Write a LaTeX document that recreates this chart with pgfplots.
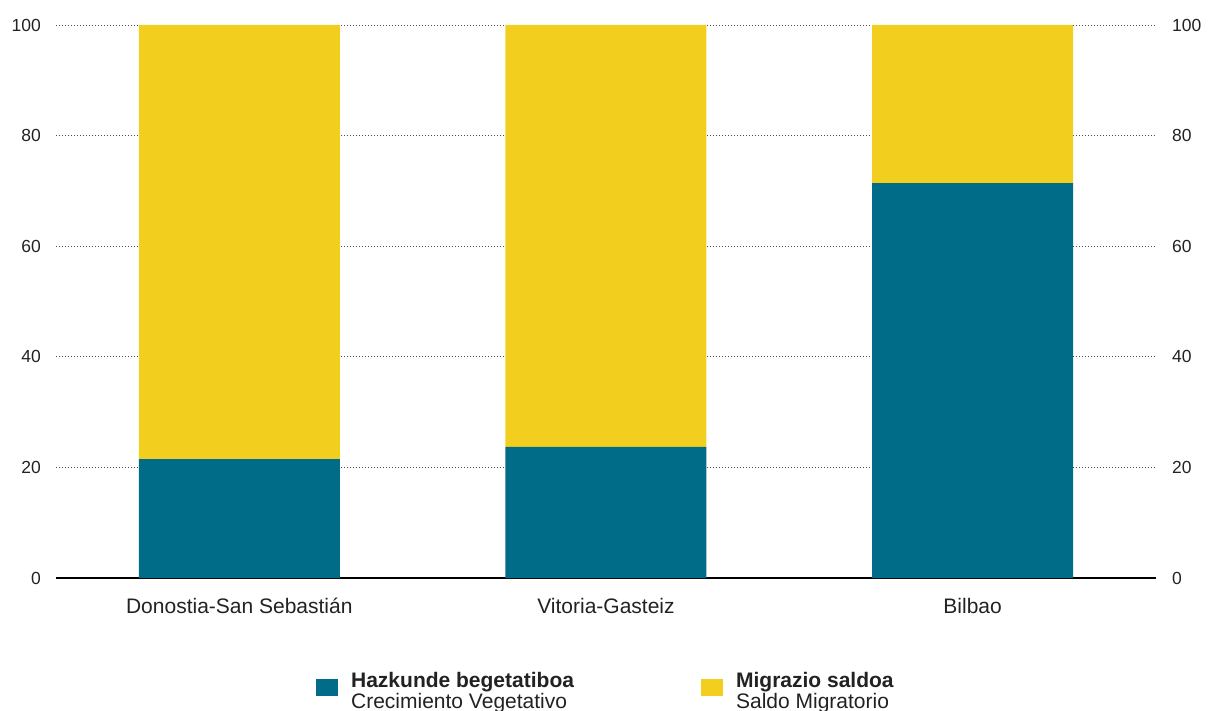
\documentclass[border=0pt]{standalone}
\usepackage{pgfplots}
\pgfplotsset{compat=1.18}
\usepackage{fontspec}
\setmainfont{Liberation Sans}
\definecolor{teal1}{RGB}{0,108,135}
\definecolor{yel1}{RGB}{242,207,30}
\definecolor{txt}{RGB}{34,34,34}
\begin{document}
\begin{tikzpicture}
\path[use as bounding box] (0,0) rectangle (1208bp,711bp);
\begin{axis}[
  at={(56bp,133bp)}, anchor=south west,
  scale only axis, width=1100bp, height=553bp,
  clip=false,
  ybar stacked, bar width=201bp,
  xmin=-0.5, xmax=2.5, ymin=0, ymax=100,
  enlargelimits=false,
  xtick={0,1,2},
  xticklabels={Donostia-San Sebastián, Vitoria-Gasteiz, Bilbao},
  ytick={0,20,40,60,80,100},
  major tick length=0pt,
  axis line style={draw=none},
  ymajorgrids,
  major grid style={draw=black!70, line width=0.9bp, dash pattern=on 0.9bp off 2.1bp},
  /pgf/number format/assume math mode=true,
  tick label style={font=\fontsize{17.5bp}{20bp}\selectfont, text=txt, inner sep=0pt},
  yticklabel style={anchor=east, xshift=-15bp},
  xticklabel style={anchor=base, yshift=-35bp, font=\fontsize{21bp}{24bp}\selectfont},
  legend columns=2,
  legend style={draw=none, fill=none, at={(axis description cs:0.5,-0.167)}, anchor=north,
    inner sep=0pt, font=\fontsize{21bp}{21bp}\selectfont, text=txt,
    cells={anchor=west, align=left},
    /tikz/every odd column/.append style={column sep=11bp},
    /tikz/every even column/.append style={column sep=125bp}},
  legend image code/.code={\fill[#1, draw=none] (0bp,-5bp) rectangle (22bp,12bp);},
]
\addplot[fill=teal1, draw=none] coordinates {(0,21.5) (1,23.7) (2,71.4)};
\addplot[fill=yel1, draw=none] coordinates {(0,78.5) (1,76.3) (2,28.6)};
\legend{{\textbf{Hazkunde begetatiboa}\\Crecimiento Vegetativo}, {\textbf{Migrazio saldoa}\\Saldo Migratorio}}
\draw[black, line width=2.6bp] (axis cs:-0.5,0) -- (axis cs:2.5,0);
\end{axis}
\begin{axis}[
  at={(56bp,133bp)}, anchor=south west,
  scale only axis, width=1100bp, height=553bp,
  xmin=-0.5, xmax=2.5, ymin=0, ymax=100,
  hide x axis,
  axis y line*=right,
  y axis line style={draw=none},
  ytick={0,20,40,60,80,100},
  major tick length=0pt,
  /pgf/number format/assume math mode=true,
  yticklabel style={font=\fontsize{17.5bp}{20bp}\selectfont, text=txt, inner sep=0pt, anchor=west, xshift=16bp},
]
\end{axis}
\end{tikzpicture}
\end{document}
